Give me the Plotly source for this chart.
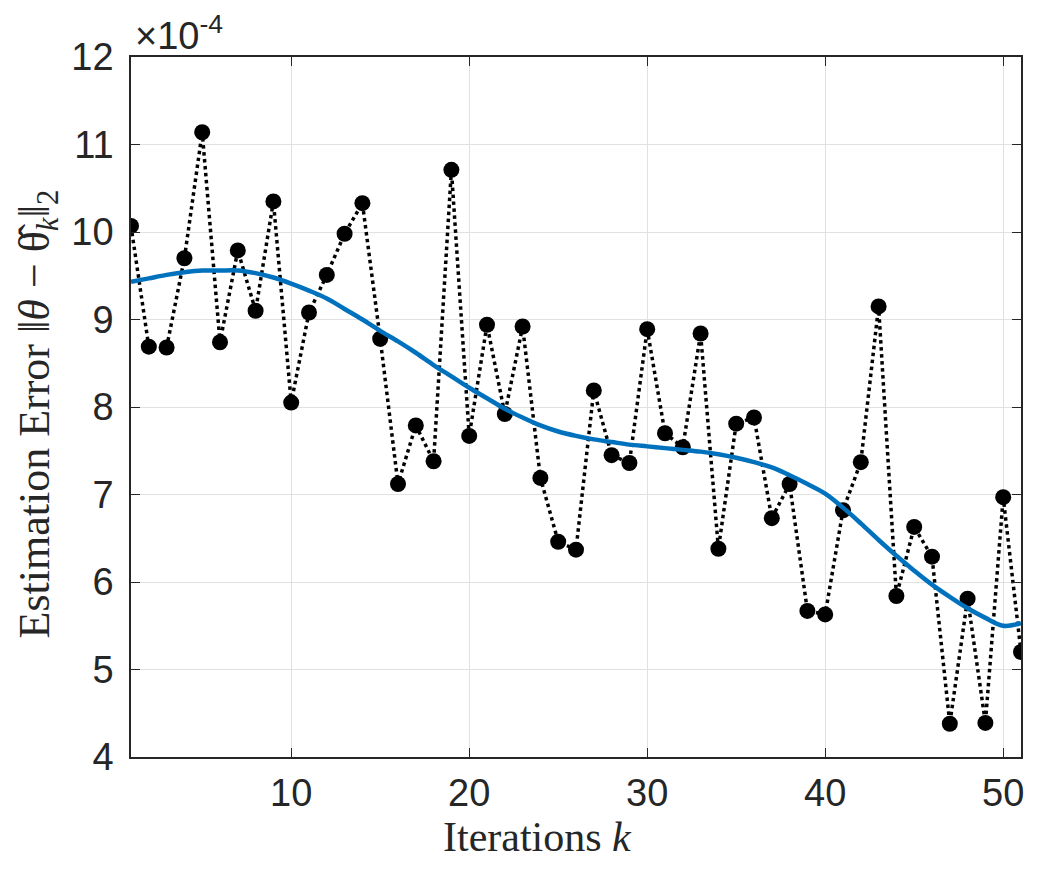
import plotly.graph_objects as go

# values, in units of 1e-4
iterations = list(range(1, 52))
est_error = [10.07, 8.69, 8.68, 9.70, 11.14, 8.74, 9.79, 9.10, 10.35, 8.05,
             9.08, 9.51, 9.98, 10.33, 8.78, 7.12, 7.79, 7.38, 10.71, 7.67,
             8.94, 7.92, 8.92, 7.19, 6.46, 6.37, 8.19, 7.45, 7.36, 8.89,
             7.70, 7.54, 8.84, 6.38, 7.81, 7.88, 6.73, 7.12, 5.67, 5.63,
             6.82, 7.37, 9.15, 5.84, 6.63, 6.29, 4.38, 5.81, 4.39, 6.97, 5.20]
trend = [9.43, 9.47, 9.51, 9.54, 9.56, 9.56, 9.56, 9.53, 9.48, 9.41,
         9.33, 9.24, 9.12, 9.00, 8.87, 8.75, 8.62, 8.48, 8.35, 8.22,
         8.10, 7.98, 7.88, 7.79, 7.72, 7.67, 7.63, 7.60, 7.57, 7.55,
         7.53, 7.51, 7.49, 7.46, 7.42, 7.37, 7.31, 7.22, 7.12, 7.01,
         6.85, 6.67, 6.48, 6.30, 6.13, 5.97, 5.83, 5.70, 5.59, 5.50, 5.53]
x_ticks = [10, 20, 30, 40, 50]
y_ticks = [4, 5, 6, 7, 8, 9, 10, 11, 12]

axis_col = "#262626"
sans = "Liberation Sans, Arial, sans-serif"
serif = "Liberation Serif, Times New Roman, serif"
tick_font = dict(family=sans, size=38, color=axis_col)

fig = go.Figure()

# raw estimation error, dotted with filled markers
fig.add_trace(go.Scatter(
    x=iterations,
    y=est_error,
    mode="lines+markers",
    line=dict(color="black", width=3.5, dash="dot"),
    marker=dict(symbol="circle", size=16, color="black"),
    showlegend=False,
))

# smooth fit on top
fig.add_trace(go.Scatter(
    x=iterations,
    y=trend,
    mode="lines",
    line=dict(color="#0072BD", width=4.5, shape="spline"),
    showlegend=False,
))

axis_common = dict(
    ticks="inside",
    ticklen=9,
    tickwidth=1.2,
    tickcolor=axis_col,
    showline=True,
    linecolor=axis_col,
    linewidth=1.5,
    mirror="ticks",
    showgrid=True,
    gridcolor="#e1e1e1",
    gridwidth=1,
    zeroline=False,
    tickfont=tick_font,
)

# page body adds 8px around the figure, so the figure is a bit smaller
fig.update_layout(
    width=1025,
    height=853,
    margin=dict(l=123, r=12, t=49, b=104),
    paper_bgcolor="white",
    plot_bgcolor="white",
    xaxis=dict(range=[1, 51], tickvals=x_ticks, ticklabelstandoff=2, automargin=False, **axis_common),
    yaxis=dict(range=[4, 12], tickvals=y_ticks, ticklabelstandoff=8, automargin=False, **axis_common),
    annotations=[
        dict(text="×10<sup>-4</sup>", xref="paper", yref="paper", x=0, y=1,
             xanchor="left", yanchor="bottom", xshift=2, yshift=-2, showarrow=False,
             font=dict(family=sans, size=38, color=axis_col)),
        dict(text="Iterations <i>k</i>", xref="paper", yref="paper", x=0.457, y=0,
             xanchor="center", yanchor="top", yshift=-55, showarrow=False,
             font=dict(family=serif, size=42, color=axis_col)),
        dict(text="Estimation Error ‖<i>θ</i> − θ̂<sub><i>k</i></sub>‖<sub>2</sub>",
             xref="paper", yref="paper", x=0, y=0.49, xanchor="right", yanchor="middle",
             xshift=-65, textangle=-90, showarrow=False,
             font=dict(family=serif, size=44, color=axis_col)),
    ],
)

fig.write_html("out.html")
